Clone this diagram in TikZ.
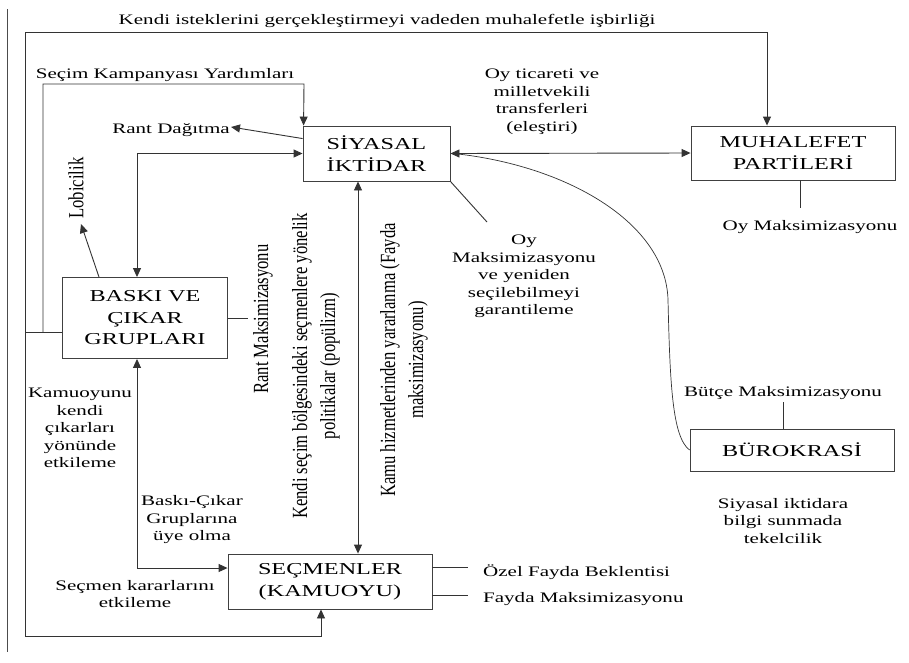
\documentclass[tikz,border=0pt]{standalone}
\usepackage{fontspec}
\setmainfont{Liberation Serif}[FakeStretch=1.45]
\newfontfamily\rotfont{Liberation Serif}[FakeStretch=0.77]
\usetikzlibrary{arrows.meta}
\tikzset{
  box/.style={draw=black!75, line width=0.9pt, inner sep=0pt, align=center,
    font=\fontsize{16.7}{21.5}\selectfont},
  lbl/.style={inner sep=0pt, align=center, font=\fontsize{14.5}{17.5}\selectfont},
  rlbl/.style={inner sep=0pt, align=center, rotate=90,
    font=\rotfont\fontsize{21.6}{28}\selectfont},
  ln/.style={draw=black!80, line width=0.9pt},
  arr/.style={ln, -{Triangle[length=9pt,width=8pt]}},
  darr/.style={ln, {Triangle[length=9pt,width=8pt]}-{Triangle[length=9pt,width=8pt]}},
}
\begin{document}
\begin{tikzpicture}[x=1pt,y=-1pt]
\useasboundingbox (0,0) rectangle (909,662);
\fill[white] (0,0) rectangle (909,662);
\draw[line width=0.8pt, black!70] (7,9) -- (7,652);

% boxes
\node[box, minimum width=147pt, minimum height=55pt] (siy) at (376.5,153.5) {SİYASAL\\İKTİDAR};
\node[box, minimum width=204pt, minimum height=54pt] (muh) at (793,153) {MUHALEFET\\PARTİLERİ};
\node[box, minimum width=165pt, minimum height=81pt] (bas) at (145,318) {BASKI VE\\ÇIKAR\\GRUPLARI};
\node[box, minimum width=204pt, minimum height=55pt] (sec) at (330,581.5) {SEÇMENLER\\(KAMUOYU)};
\node[box, minimum width=204pt, minimum height=42pt] (bur) at (792,450) {BÜROKRASİ};

% labels
\node[lbl] (top) at (387,21) {Kendi isteklerini gerçekleştirmeyi vadeden muhalefetle işbirliği};
\node[lbl] (sk) at (165,75) {Seçim Kampanyası Yardımları};
\node[lbl] (rd) at (171,130) {Rant Dağıtma};
\node[rlbl] (lob) at (76,188) {Lobicilik};
\node[rlbl] (rm) at (263,319) {Rant Maksimizasyonu};
\node[rlbl] (pop) at (316,366) {Kendi seçim bölgesindeki seçmenlere yönelik\\politikalar (popülizm)};
\node[rlbl] (kamu) at (404,360) {Kamu hizmetlerinden yararlanma (Fayda\\maksimizasyonu)};
\node[lbl] (oyt) at (542,101.5) {Oy ticareti ve\\milletvekili\\transferleri\\(eleştiri)};
\node[lbl] (oysec) at (524,276.5) {Oy\\Maksimizasyonu\\ve yeniden\\seçilebilmeyi\\garantileme};
\node[lbl] (oym) at (810,227) {Oy Maksimizasyonu};
\node[lbl] (bm) at (783,393) {Bütçe Maksimizasyonu};
\node[lbl] (sib) at (783,521) {Siyasal iktidara\\bilgi sunmada\\tekelcilik};
\node[lbl, anchor=west] (ofb) at (483,572) {Özel Fayda Beklentisi};
\node[lbl, anchor=west] (fm) at (483,599) {Fayda Maksimizasyonu};
\node[lbl] (kam) at (80,428) {Kamuoyunu\\kendi\\çıkarları\\yönünde\\etkileme};
\node[lbl] (bcg) at (192,520) {Baskı-Çıkar\\Gruplarına\\üye olma};
\node[lbl] (skk) at (135,594) {Seçmen kararlarını\\etkileme};

% helper coordinates
\coordinate (bL) at ([yshift=-14pt]bas.west);
\coordinate (k1) at (25,32);
\coordinate (k2) at (25,636);
\coordinate (k3a) at (43,332);
\coordinate (k3) at (304,84);
\coordinate (lobTip) at (81,224);
\coordinate (rdTip) at (231,127);
\coordinate (oyTip) at (487,222);
\coordinate (cv1) at (668,300);

% connectors
\draw[arr] (bL) -| (k1) -| ([xshift=-26pt]muh.north);
\draw[arr] (bL) -| (k2) -| ([xshift=-9pt]sec.south);
\draw[arr] (k3a) |- (k3) -- ([xshift=1pt]siy.north west);
\draw[darr] ([xshift=-8pt]bas.north) |- (siy.west);
\draw[darr] ([xshift=-8pt]bas.south) |- ([yshift=13.5pt]sec.west);
\draw[darr] ([xshift=-18.5pt]siy.south) -- ([xshift=28pt]sec.north);
\draw[darr] (siy.east) -- (muh.west);
\draw[arr] ([yshift=-13pt]siy.north west) -- (rdTip);
\draw[arr] ([xshift=-46pt]bas.north) -- (lobTip);
\draw[ln] (siy.south east) -- (oyTip);
\draw[ln, line width=0.7pt] ([xshift=3pt]siy.east) .. controls (565,165) and (666,222) .. (cv1)
  .. controls (670,382) and (672,437) .. (bur.west);

% stubs
\draw[ln] ([xshift=7pt]muh.south) -- ++(0,28);
\draw[ln] ([xshift=-9pt]bur.north) -- ++(0,-27);
\draw[ln] (bas.east) -- ++(20,0);
\draw[ln] ([yshift=14.5pt]sec.east) -- ++(36,0);
\draw[ln] ([yshift=-13.5pt]sec.east) -- ++(36,0);
\end{tikzpicture}
\end{document}
